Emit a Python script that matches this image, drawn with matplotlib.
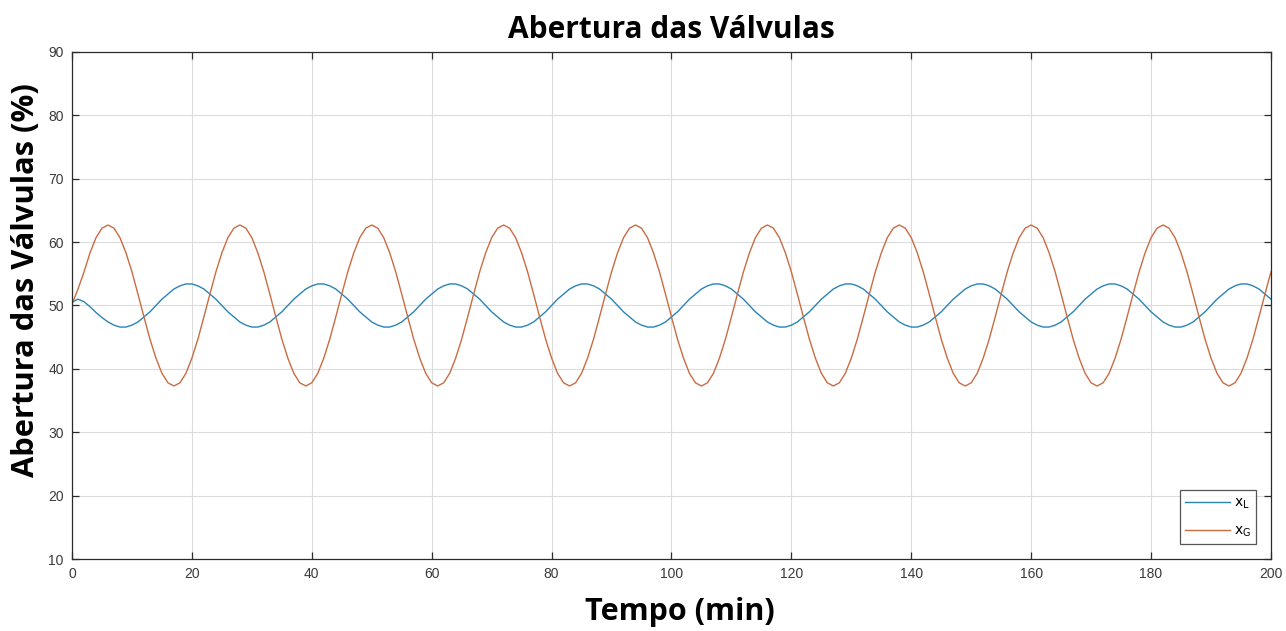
import matplotlib
matplotlib.use("Agg")
import matplotlib.pyplot as plt

# Time axis (minutes), one reading per minute
tempo = list(range(0, 201))

# x_G: gas valve opening (%)
x_G = [
    50.2, 52.6, 55.3, 58.3, 60.7, 62.2, 62.7, 62.2, 60.7, 58.3, 55.3, 51.8, 48.2, 44.7, 41.7, 39.3, 37.8, 37.3, 37.8, 39.3, 41.7, 44.7,
    48.2, 51.8, 55.3, 58.3, 60.7, 62.2, 62.7, 62.2, 60.7, 58.3, 55.3, 51.8, 48.2, 44.7, 41.7, 39.3, 37.8, 37.3, 37.8, 39.3, 41.7, 44.7,
    48.2, 51.8, 55.3, 58.3, 60.7, 62.2, 62.7, 62.2, 60.7, 58.3, 55.3, 51.8, 48.2, 44.7, 41.7, 39.3, 37.8, 37.3, 37.8, 39.3, 41.7, 44.7,
    48.2, 51.8, 55.3, 58.3, 60.7, 62.2, 62.7, 62.2, 60.7, 58.3, 55.3, 51.8, 48.2, 44.7, 41.7, 39.3, 37.8, 37.3, 37.8, 39.3, 41.7, 44.7,
    48.2, 51.8, 55.3, 58.3, 60.7, 62.2, 62.7, 62.2, 60.7, 58.3, 55.3, 51.8, 48.2, 44.7, 41.7, 39.3, 37.8, 37.3, 37.8, 39.3, 41.7, 44.7,
    48.2, 51.8, 55.3, 58.3, 60.7, 62.2, 62.7, 62.2, 60.7, 58.3, 55.3, 51.8, 48.2, 44.7, 41.7, 39.3, 37.8, 37.3, 37.8, 39.3, 41.7, 44.7,
    48.2, 51.8, 55.3, 58.3, 60.7, 62.2, 62.7, 62.2, 60.7, 58.3, 55.3, 51.8, 48.2, 44.7, 41.7, 39.3, 37.8, 37.3, 37.8, 39.3, 41.7, 44.7,
    48.2, 51.8, 55.3, 58.3, 60.7, 62.2, 62.7, 62.2, 60.7, 58.3, 55.3, 51.8, 48.2, 44.7, 41.7, 39.3, 37.8, 37.3, 37.8, 39.3, 41.7, 44.7,
    48.2, 51.8, 55.3, 58.3, 60.7, 62.2, 62.7, 62.2, 60.7, 58.3, 55.3, 51.8, 48.2, 44.7, 41.7, 39.3, 37.8, 37.3, 37.8, 39.3, 41.7, 44.7,
    48.2, 51.8, 55.3,
]

# x_L: liquid valve opening (%)
x_L = [
    50.5, 51.0, 50.6, 49.8, 48.9, 48.1, 47.4, 46.9, 46.6, 46.6, 46.9, 47.4, 48.2, 49.0, 50.0, 51.0, 51.8, 52.6, 53.1, 53.4, 53.4, 53.1,
    52.6, 51.8, 51.0, 50.0, 49.0, 48.2, 47.4, 46.9, 46.6, 46.6, 46.9, 47.4, 48.2, 49.0, 50.0, 51.0, 51.8, 52.6, 53.1, 53.4, 53.4, 53.1,
    52.6, 51.8, 51.0, 50.0, 49.0, 48.2, 47.4, 46.9, 46.6, 46.6, 46.9, 47.4, 48.2, 49.0, 50.0, 51.0, 51.8, 52.6, 53.1, 53.4, 53.4, 53.1,
    52.6, 51.8, 51.0, 50.0, 49.0, 48.2, 47.4, 46.9, 46.6, 46.6, 46.9, 47.4, 48.2, 49.0, 50.0, 51.0, 51.8, 52.6, 53.1, 53.4, 53.4, 53.1,
    52.6, 51.8, 51.0, 50.0, 49.0, 48.2, 47.4, 46.9, 46.6, 46.6, 46.9, 47.4, 48.2, 49.0, 50.0, 51.0, 51.8, 52.6, 53.1, 53.4, 53.4, 53.1,
    52.6, 51.8, 51.0, 50.0, 49.0, 48.2, 47.4, 46.9, 46.6, 46.6, 46.9, 47.4, 48.2, 49.0, 50.0, 51.0, 51.8, 52.6, 53.1, 53.4, 53.4, 53.1,
    52.6, 51.8, 51.0, 50.0, 49.0, 48.2, 47.4, 46.9, 46.6, 46.6, 46.9, 47.4, 48.2, 49.0, 50.0, 51.0, 51.8, 52.6, 53.1, 53.4, 53.4, 53.1,
    52.6, 51.8, 51.0, 50.0, 49.0, 48.2, 47.4, 46.9, 46.6, 46.6, 46.9, 47.4, 48.2, 49.0, 50.0, 51.0, 51.8, 52.6, 53.1, 53.4, 53.4, 53.1,
    52.6, 51.8, 51.0, 50.0, 49.0, 48.2, 47.4, 46.9, 46.6, 46.6, 46.9, 47.4, 48.2, 49.0, 50.0, 51.0, 51.8, 52.6, 53.1, 53.4, 53.4, 53.1,
    52.6, 51.8, 51.0,
]

x_ticks = [0, 20, 40, 60, 80, 100, 120, 140, 160, 180, 200]
y_ticks = [10, 20, 30, 40, 50, 60, 70, 80, 90]

series_labels = [r"$\mathregular{x_L}$", r"$\mathregular{x_G}$"]
title = "Abertura das Válvulas"
xlabel = "Tempo (min)"
ylabel = "Abertura das Válvulas (%)"

fig = plt.figure(figsize=(12.86, 6.31), dpi=100)
ax = fig.add_axes([0.056, 0.1141, 0.9323, 0.8035])

ax.plot(tempo, x_L, color="#2a84b5", lw=1.0, label=series_labels[0])
ax.plot(tempo, x_G, color="#c96c42", lw=1.0, label=series_labels[1])

ax.set_xlim(0, 200)
ax.set_ylim(10, 90)
ax.set_xticks(x_ticks)
ax.set_yticks(y_ticks)
ax.grid(True, color="#dcdcdc", lw=0.8)
ax.set_axisbelow(True)

for s in ax.spines.values():
    s.set_color("#2b2b2b")
    s.set_linewidth(0.9)

ax.tick_params(direction="in", length=5, width=0.9, color="#2b2b2b",
               top=True, right=True, labelsize=10, labelcolor="#3a3a3a", pad=6)
for lbl in ax.get_xticklabels() + ax.get_yticklabels():
    lbl.set_family("Liberation Sans")

ax.set_title(title, fontsize=21.5, fontweight="bold", family="Open Sans", pad=10)
ax.set_xlabel(xlabel, fontsize=22, fontweight="bold", family="Open Sans", labelpad=10)
ax.xaxis.set_label_coords(0.507, -0.074)
ax.set_ylabel(ylabel, fontsize=22.2, fontweight="bold", family="Open Sans")
ax.yaxis.set_label_coords(-0.026, 0.55)

leg = ax.legend(loc="lower right", fontsize=10, frameon=True, fancybox=False,
                edgecolor="#2b2b2b", handlelength=3.2, borderaxespad=1.05,
                labelspacing=0.9, handletextpad=0.3)
leg.get_frame().set_linewidth(0.9)

fig.savefig("out.png", dpi=100)
